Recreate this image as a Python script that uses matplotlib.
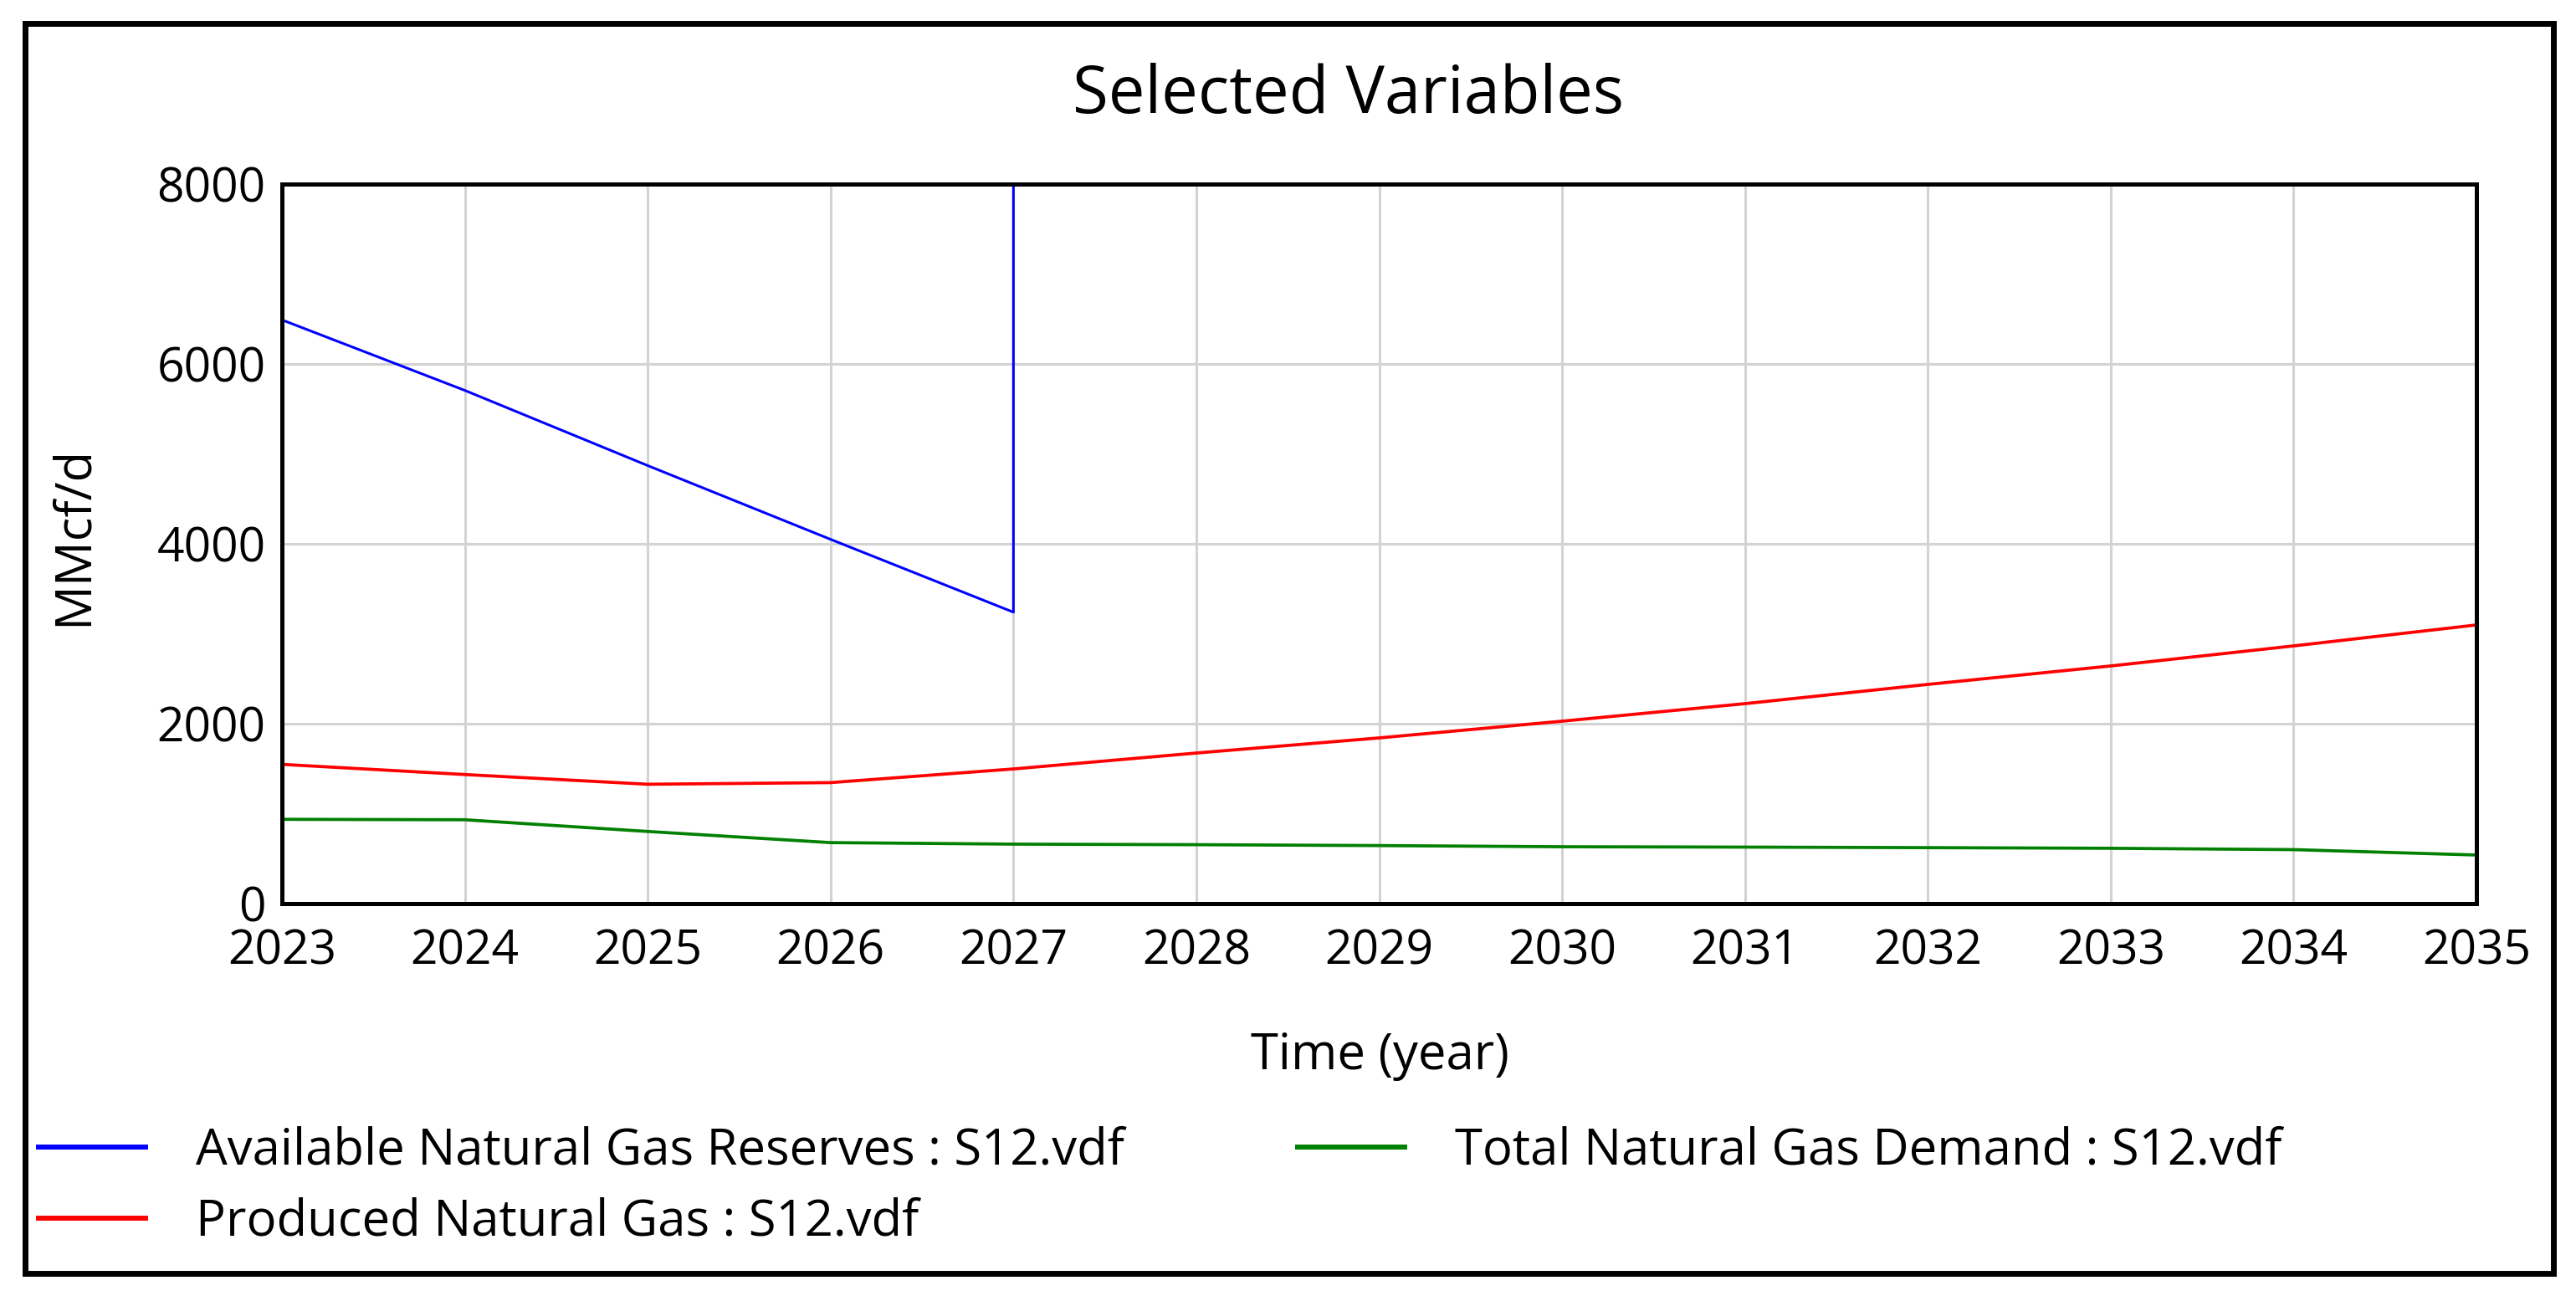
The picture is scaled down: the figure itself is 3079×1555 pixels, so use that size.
import matplotlib
matplotlib.use("Agg")
import matplotlib.pyplot as plt
from matplotlib.patches import Rectangle

# --- data (MMcf/d) ---
YEARS = [2023, 2024, 2025, 2026, 2027, 2028, 2029, 2030, 2031, 2032, 2033, 2034, 2035]

# reserves fall until 2027, then jump off the top of the chart
RESERVE_YEARS = [2023, 2024, 2025, 2026, 2027, 2027]
RESERVES = [6490, 5706, 4870, 4050, 3240, 9000]

PRODUCED = [1548, 1435, 1327, 1345, 1497, 1674, 1842, 2028, 2223, 2437, 2642, 2865, 3098]
DEMAND = [937, 932, 802, 678, 661, 655, 645, 632, 628, 622, 615, 600, 540]

Y_TICKS = [0, 2000, 4000, 6000, 8000]

TITLE = "Selected Variables"
X_LABEL = "Time (year)"
Y_LABEL = "MMcf/d"
NAMES = ["Available Natural Gas Reserves : S12.vdf",
         "Produced Natural Gas : S12.vdf",
         "Total Natural Gas Demand : S12.vdf"]

W, H, DPI = 3079, 1555, 100
FONT = "Open Sans"
FS_TICK = 41
FS = 43

plt.rcParams['font.family'] = [FONT, 'DejaVu Sans']

fig = plt.figure(figsize=(W / DPI, H / DPI), dpi=DPI)

# outer frame round the whole chart
fig.patches.append(Rectangle((30 / W, 1 - 1522 / H), (3052 - 30) / W, (1522 - 28) / H,
                             transform=fig.transFigure, fill=False,
                             edgecolor="black", linewidth=5))

ax = fig.add_axes([337 / W, 1 - 1080 / H, (2960 - 337) / W, (1080 - 220) / H])

l_res, = ax.plot(RESERVE_YEARS, RESERVES, color="#0000FF", linewidth=2.2)
l_prod, = ax.plot(YEARS, PRODUCED, color="#FF0000", linewidth=2.7)
l_dem, = ax.plot(YEARS, DEMAND, color="#008000", linewidth=2.7)

ax.set_xlim(YEARS[0], YEARS[-1])
ax.set_ylim(0, 8000)
ax.set_xticks(YEARS)
ax.set_yticks(Y_TICKS)
ax.grid(True, color="#D3D3D3", linewidth=2.2)
ax.set_axisbelow(True)
ax.tick_params(length=0, labelsize=FS_TICK)
ax.tick_params(axis="y", pad=14)
ax.tick_params(axis="x", pad=21)
for s in ax.spines.values():
    s.set_linewidth(3.6)
    s.set_zorder(5)

fig.text(1611 / W, 1 - 114 / H, TITLE, ha="center", va="center", fontsize=56)
fig.text(88 / W, 1 - 640 / H, Y_LABEL, ha="center", va="center", rotation=90, fontsize=FS)
fig.text(1649 / W, 1 - 1262 / H, X_LABEL, ha="center", va="center", fontsize=FS)

leg_kw = dict(frameon=False, fontsize=FS, handlelength=2.15, handletextpad=1.0,
              borderpad=0, borderaxespad=0, labelspacing=0.42, loc="center left")
leg1 = fig.legend([l_res, l_prod], NAMES[:2], bbox_to_anchor=(46 / W, 1 - 1418 / H), **leg_kw)
leg2 = fig.legend([l_dem], NAMES[2:], bbox_to_anchor=(1551 / W, 1 - 1376 / H), **leg_kw)
for leg in (leg1, leg2):
    for ln in leg.get_lines():
        ln.set_linewidth(4.3)

fig.savefig("out.png", dpi=DPI)
